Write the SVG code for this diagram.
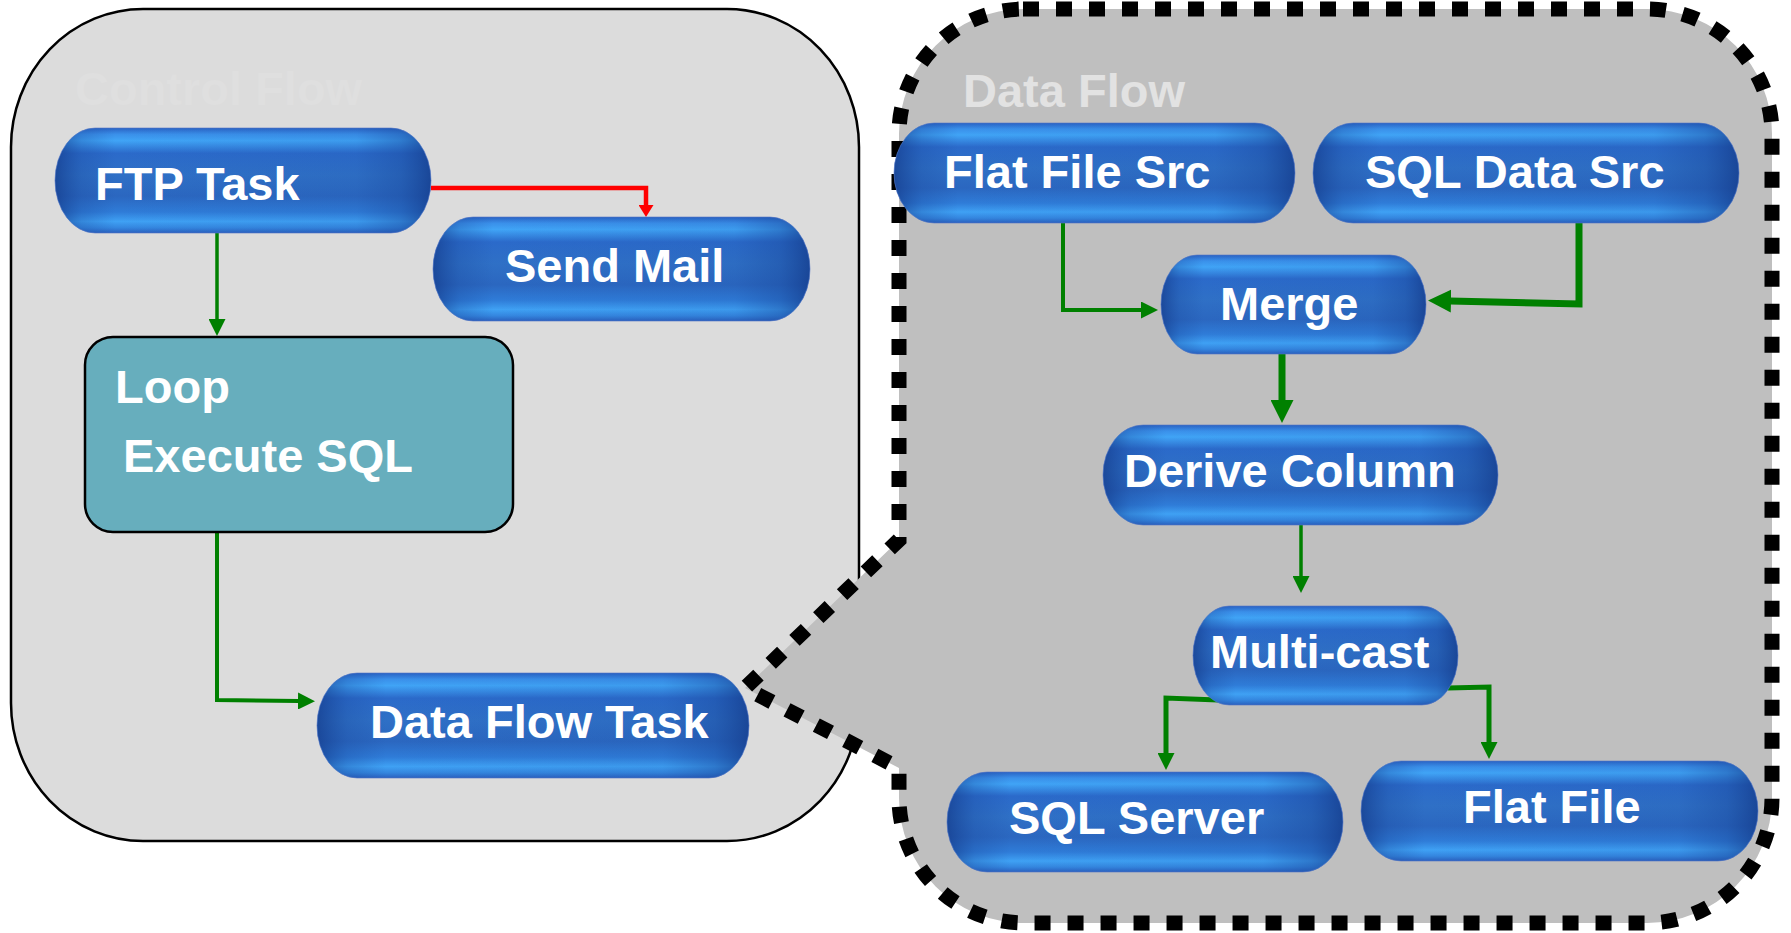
<svg xmlns="http://www.w3.org/2000/svg" width="1791" height="933" viewBox="0 0 1791 933">
<style>
.lbl{font-family:"Liberation Sans",Arial,sans-serif;font-weight:bold;font-size:47px;fill:#FFFFFF}
.ghost{font-family:"Liberation Sans",Arial,sans-serif;font-weight:bold;font-size:47px}
.pill{fill:url(#gV)}
.pillEdge{fill:url(#gH);stroke:#5576C4;stroke-width:1;stroke-opacity:0.6}
.g{fill:none;stroke:#008000;stroke-linejoin:miter}
</style>
<defs>
<linearGradient id="gV" x1="0" y1="0" x2="0" y2="1">
<stop offset="0" stop-color="#2A63C4"/>
<stop offset="0.06" stop-color="#3A90EA"/>
<stop offset="0.12" stop-color="#40A4F6"/>
<stop offset="0.24" stop-color="#2B6ACA"/>
<stop offset="0.45" stop-color="#2F70C6"/>
<stop offset="0.65" stop-color="#2B67C0"/>
<stop offset="0.80" stop-color="#2F7CD8"/>
<stop offset="0.89" stop-color="#3FA1F4"/>
<stop offset="0.95" stop-color="#3486DF"/>
<stop offset="1" stop-color="#2A60BE"/>
</linearGradient>
<linearGradient id="gH" x1="0" y1="0" x2="1" y2="0">
<stop offset="0" stop-color="#143C8C" stop-opacity="0.75"/>
<stop offset="0.07" stop-color="#1A4A9E" stop-opacity="0.3"/>
<stop offset="0.16" stop-color="#1A4A9E" stop-opacity="0"/>
<stop offset="0.80" stop-color="#1A4A9E" stop-opacity="0.1"/>
<stop offset="0.92" stop-color="#1A4A9E" stop-opacity="0.45"/>
<stop offset="1" stop-color="#143C8C" stop-opacity="0.8"/>
</linearGradient>
<marker id="arrS" markerUnits="userSpaceOnUse" viewBox="0 0 17 17" refX="1" refY="8.5" markerWidth="17" markerHeight="17" orient="auto">
<path d="M0,0 L17,8.5 L0,17 Z" fill="#008000"/>
</marker>
<marker id="arrL" markerUnits="userSpaceOnUse" viewBox="0 0 23 23" refX="1" refY="11.5" markerWidth="23" markerHeight="23" orient="auto">
<path d="M0,0 L23,11.5 L0,23 Z" fill="#008000"/>
</marker>
<marker id="arrR" markerUnits="userSpaceOnUse" viewBox="0 0 12 15" refX="1" refY="7.5" markerWidth="12" markerHeight="15" orient="auto">
<path d="M0,0 L12,7.5 L0,15 Z" fill="#FF0000"/>
</marker>
</defs>

<rect width="1791" height="933" fill="#FFFFFF"/>

<g id="control-flow">
<rect x="11" y="9" width="848" height="832" rx="132" ry="138" fill="#DCDCDC" stroke="#000000" stroke-width="2.5"/>
<text class="ghost" x="75" y="105" fill="#DFDFDF">Control Flow</text>
</g>

<g id="data-flow">
<path d="M1023,9 H1647 A125,125 0 0 1 1772,134 V798 A125,125 0 0 1 1647,923 H1024 A125,125 0 0 1 899,798 V768 L745,688 L899,540 V134 A125,125 0 0 1 1023,9 Z" fill="#BFBFBF" stroke="#000000" stroke-width="15" stroke-dasharray="16 17"/>
<text class="ghost" x="963" y="107" fill="#E2E2E2">Data Flow</text>
</g>

<g id="connectors">
<path d="M431,188 H646 V206" fill="none" stroke="#FF0000" stroke-width="4.5" marker-end="url(#arrR)"/>
<path class="g" d="M217,233 V320" stroke-width="3.5" marker-end="url(#arrS)"/>
<path class="g" d="M217,532 V700 L299,701" stroke-width="4" marker-end="url(#arrS)"/>
<path class="g" d="M1063,223 V310 H1142" stroke-width="4" marker-end="url(#arrS)"/>
<path class="g" d="M1579,223 V304 L1450,301" stroke-width="7" marker-end="url(#arrL)"/>
<path class="g" d="M1282,354 V401" stroke-width="7" marker-end="url(#arrL)"/>
<path class="g" d="M1301,525 V577" stroke-width="3.5" marker-end="url(#arrS)"/>
<path class="g" d="M1218,700 L1166,698 V754" stroke-width="5" marker-end="url(#arrS)"/>
<path class="g" d="M1448,688 L1489,687 V743" stroke-width="5" marker-end="url(#arrS)"/>
</g>

<g id="ftp-task">
<rect class="pill" x="55" y="128" width="376" height="105" rx="40" ry="52.5"/>
<rect class="pillEdge" x="55" y="128" width="376" height="105" rx="40" ry="52.5"/>
<text class="lbl" x="95" y="200">FTP Task</text>
</g>

<g id="send-mail">
<rect class="pill" x="433" y="217" width="377" height="104" rx="40" ry="52"/>
<rect class="pillEdge" x="433" y="217" width="377" height="104" rx="40" ry="52"/>
<text class="lbl" x="505" y="282">Send Mail</text>
</g>

<g id="loop">
<rect x="85" y="337" width="428" height="195" rx="28" ry="28" fill="#67AEBD" stroke="#000000" stroke-width="2.5"/>
<text class="lbl" x="115" y="403">Loop</text>
<text class="lbl" x="123" y="472">Execute SQL</text>
</g>

<g id="data-flow-task">
<rect class="pill" x="317" y="673" width="432" height="105" rx="40" ry="52.5"/>
<rect class="pillEdge" x="317" y="673" width="432" height="105" rx="40" ry="52.5"/>
<text class="lbl" x="370" y="738">Data Flow Task</text>
</g>

<g id="flat-file-src">
<rect class="pill" x="894" y="123" width="401" height="100" rx="40" ry="50"/>
<rect class="pillEdge" x="894" y="123" width="401" height="100" rx="40" ry="50"/>
<text class="lbl" x="944" y="188">Flat File Src</text>
</g>

<g id="sql-data-src">
<rect class="pill" x="1313" y="123" width="426" height="100" rx="40" ry="50"/>
<rect class="pillEdge" x="1313" y="123" width="426" height="100" rx="40" ry="50"/>
<text class="lbl" x="1365" y="188">SQL Data Src</text>
</g>

<g id="merge">
<rect class="pill" x="1161" y="255" width="265" height="99" rx="36" ry="49.5"/>
<rect class="pillEdge" x="1161" y="255" width="265" height="99" rx="36" ry="49.5"/>
<text class="lbl" x="1220" y="320">Merge</text>
</g>

<g id="derive-column">
<rect class="pill" x="1103" y="425" width="395" height="100" rx="40" ry="50"/>
<rect class="pillEdge" x="1103" y="425" width="395" height="100" rx="40" ry="50"/>
<text class="lbl" x="1124" y="487">Derive Column</text>
</g>

<g id="multi-cast">
<rect class="pill" x="1193" y="606" width="265" height="99" rx="36" ry="49.5"/>
<rect class="pillEdge" x="1193" y="606" width="265" height="99" rx="36" ry="49.5"/>
<text class="lbl" x="1210" y="668">Multi-cast</text>
</g>

<g id="sql-server">
<rect class="pill" x="947" y="772" width="396" height="100" rx="40" ry="50"/>
<rect class="pillEdge" x="947" y="772" width="396" height="100" rx="40" ry="50"/>
<text class="lbl" x="1009" y="834">SQL Server</text>
</g>

<g id="flat-file">
<rect class="pill" x="1361" y="761" width="397" height="100" rx="40" ry="50"/>
<rect class="pillEdge" x="1361" y="761" width="397" height="100" rx="40" ry="50"/>
<text class="lbl" x="1463" y="823">Flat File</text>
</g>
</svg>
